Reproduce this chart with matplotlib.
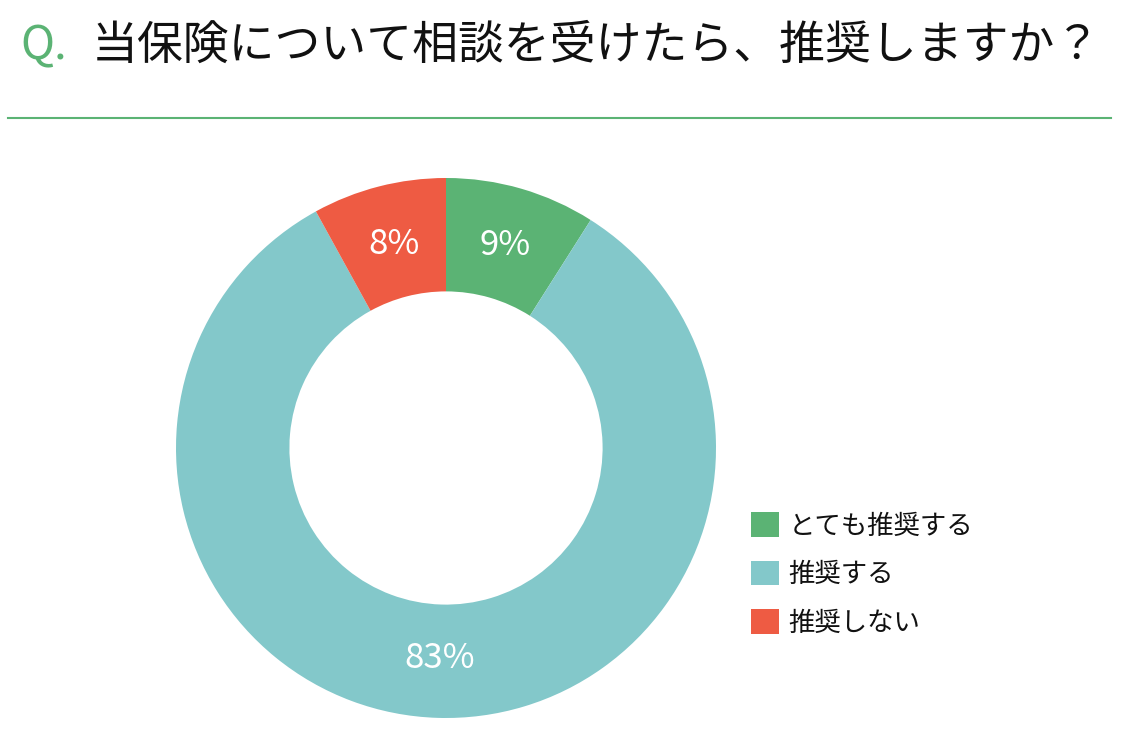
import matplotlib.pyplot as plt
from matplotlib.lines import Line2D

plt.rcParams['font.family'] = ['Noto Sans CJK JP', 'DejaVu Sans']

# data
categories = ['とても推奨する', '推奨する', '推奨しない']
shares = [9, 83, 8]
colors = ['#5BB374', '#83C8CA', '#EE5B43']
question = '当保険について相談を受けたら、推奨しますか？'

W, H = 1126, 740
fig = plt.figure(figsize=(W / 100, H / 100), dpi=100)

# title
fig.text(20 / W, 1 - 46 / H, 'Q.', color='#5BB374', fontsize=33, va='center', ha='left')
fig.text(92 / W, 1 - 46 / H, question, color='#111111', fontsize=33, va='center', ha='left')

# separator line
fig.add_artist(Line2D([8 / W, 1111 / W], [1 - 118 / H, 1 - 118 / H],
                      color='#5BB374', linewidth=1.5, transform=fig.transFigure))

# donut
cx, cy, r = 446, 448, 270
ax = fig.add_axes([(cx - r) / W, (H - cy - r) / H, 2 * r / W, 2 * r / H])
wedges, texts, autotexts = ax.pie(
    shares, colors=colors, startangle=90, counterclock=False,
    radius=1.0, wedgeprops=dict(width=0.42, edgecolor='none'),
    autopct=lambda p: '%d%%' % round(p), pctdistance=0.78,
    textprops=dict(color='white', fontsize=25))
ax.set_xlim(-1, 1)
ax.set_ylim(-1, 1)
ax.set_aspect('equal')
ax.axis('off')

# legend
leg = fig.legend(wedges, categories, loc='upper left',
                 bbox_to_anchor=(733 / W, 1 - 494 / H),
                 frameon=False, fontsize=19,
                 handlelength=1.05, handleheight=1.05,
                 handletextpad=0.35, labelspacing=0.8, borderpad=0.2)
for t in leg.get_texts():
    t.set_color('#111111')

fig.savefig('out.png', dpi=100)
